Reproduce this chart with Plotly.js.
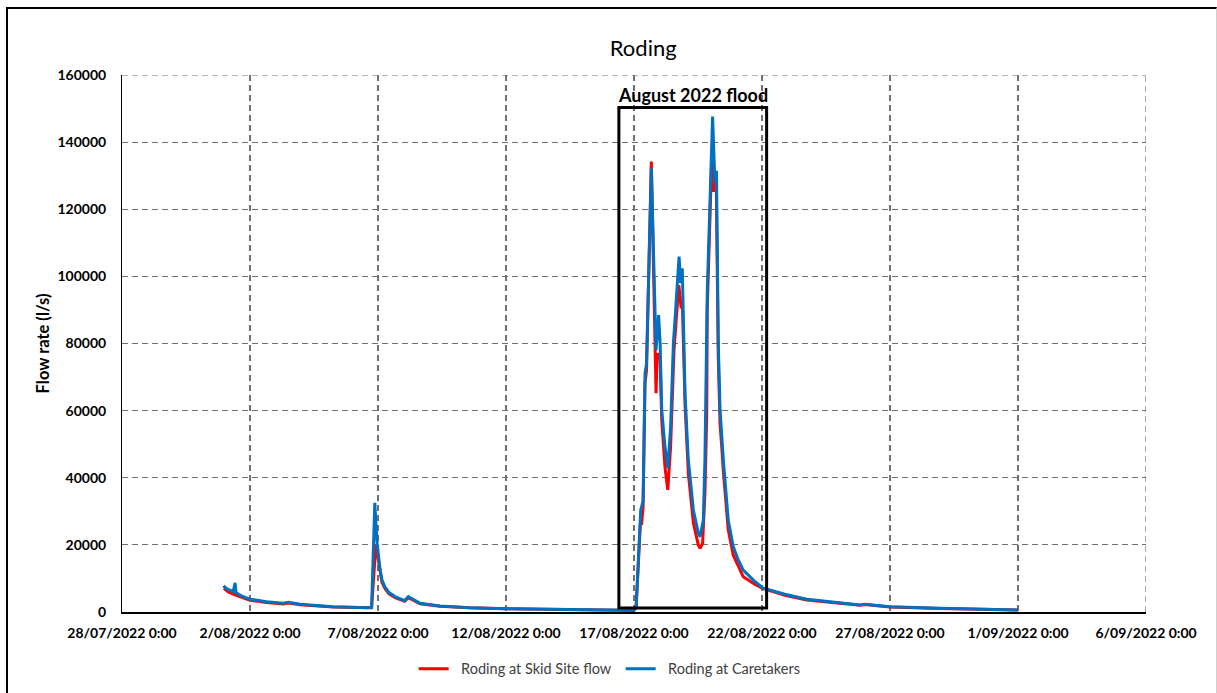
<!DOCTYPE html>
<html>
<head>
<meta charset="utf-8">
<script src="https://cdn.plot.ly/plotly-3.0.1.min.js"></script>
<style>
  html, body { margin: 0; padding: 0; background: #ffffff; }
  #chart { width: 1217px; height: 693px; }
  #frame {
    position: absolute; left: 6px; top: 7px; width: 1208px; height: 700px;
    border-left: 2px solid #000; border-top: 2px solid #000; border-right: 1px solid #cfcfcf;
    pointer-events: none;
  }
</style>
</head>
<body>
<div id="chart"></div>
<div id="frame"></div>
<script>
// Roding at Skid Site flow (l/s)
const timesSkid = [
  "2022-07-31 23:30", "2022-08-01 04:00", "2022-08-01 10:00", "2022-08-01 16:00",
  "2022-08-02 00:00", "2022-08-02 15:30", "2022-08-03 07:00", "2022-08-03 12:00",
  "2022-08-03 23:00", "2022-08-05 06:00", "2022-08-06 13:30", "2022-08-06 18:00",
  "2022-08-06 22:00", "2022-08-07 02:00", "2022-08-07 03:45", "2022-08-07 06:30",
  "2022-08-07 10:20", "2022-08-07 16:00", "2022-08-07 20:40", "2022-08-08 01:00",
  "2022-08-08 04:30", "2022-08-08 15:30", "2022-08-09 10:00", "2022-08-10 14:00",
  "2022-08-12 00:00", "2022-08-14 03:00", "2022-08-15 16:00", "2022-08-17 00:00",
  "2022-08-17 02:00", "2022-08-17 04:00", "2022-08-17 06:00", "2022-08-17 07:00",
  "2022-08-17 08:30", "2022-08-17 10:20", "2022-08-17 11:45", "2022-08-17 16:15",
  "2022-08-17 20:40", "2022-08-17 21:45", "2022-08-18 00:30", "2022-08-18 02:00",
  "2022-08-18 05:00", "2022-08-18 07:40", "2022-08-18 10:20", "2022-08-18 13:30",
  "2022-08-18 18:00", "2022-08-18 20:15", "2022-08-18 21:15", "2022-08-18 23:50",
  "2022-08-19 02:55", "2022-08-19 07:40", "2022-08-19 12:15", "2022-08-19 14:00",
  "2022-08-19 16:20", "2022-08-19 18:30", "2022-08-19 20:10", "2022-08-19 20:40",
  "2022-08-19 23:30", "2022-08-20 00:45", "2022-08-20 02:40", "2022-08-20 05:00",
  "2022-08-20 07:00", "2022-08-20 08:40", "2022-08-20 10:15", "2022-08-20 11:45",
  "2022-08-20 16:20", "2022-08-20 21:00", "2022-08-21 06:25", "2022-08-21 17:30",
  "2022-08-22 01:10", "2022-08-22 21:30", "2022-08-23 18:00", "2022-08-24 15:45",
  "2022-08-25 20:00", "2022-08-26 00:30", "2022-08-27 00:00", "2022-08-28 23:00",
  "2022-09-01 00:00"
];
const flowSkid = [
  7060, 5900, 5100, 4400,
  3500, 2850, 2400, 2700,
  2150, 1500, 1200, 1300,
  20000, 11500, 8800, 7000,
  5400, 4300, 3700, 3200,
  4300, 2450, 1700, 1250,
  950, 720, 560, 480,
  1400, 14000, 26500, 26000,
  31000, 68200, 72000, 134200,
  65200, 77100, 75000, 57200,
  43300, 36400, 49300, 78000,
  97400, 90500, 93000, 62000,
  41400, 26500, 20000, 19000,
  20500, 35400, 58200, 90000,
  118000, 133800, 125200, 130700,
  76000, 56000, 49300, 42000,
  24500, 17000, 10500, 8200,
  7000, 5000, 3600, 2850,
  2000, 2200, 1500, 1050,
  570
];

// Roding at Caretakers (l/s)
const timesCaretakers = [
  "2022-07-31 23:00", "2022-08-01 03:00", "2022-08-01 08:15", "2022-08-01 10:00",
  "2022-08-01 11:00", "2022-08-01 16:00", "2022-08-02 00:00", "2022-08-02 15:30",
  "2022-08-03 07:00", "2022-08-03 12:00", "2022-08-03 23:00", "2022-08-05 06:00",
  "2022-08-06 13:30", "2022-08-06 18:00", "2022-08-06 21:00", "2022-08-06 23:00",
  "2022-08-07 02:00", "2022-08-07 03:45", "2022-08-07 06:30", "2022-08-07 10:20",
  "2022-08-07 16:00", "2022-08-07 20:40", "2022-08-08 01:00", "2022-08-08 04:30",
  "2022-08-08 15:30", "2022-08-09 10:00", "2022-08-10 14:00", "2022-08-12 00:00",
  "2022-08-14 03:00", "2022-08-15 16:00", "2022-08-17 00:00", "2022-08-17 02:00",
  "2022-08-17 04:00", "2022-08-17 06:20", "2022-08-17 08:30", "2022-08-17 10:20",
  "2022-08-17 11:45", "2022-08-17 16:15", "2022-08-17 20:40", "2022-08-17 23:05",
  "2022-08-18 00:30", "2022-08-18 02:00", "2022-08-18 05:00", "2022-08-18 07:40",
  "2022-08-18 10:20", "2022-08-18 12:55", "2022-08-18 14:25", "2022-08-18 18:15",
  "2022-08-18 19:45", "2022-08-18 21:15", "2022-08-18 23:50", "2022-08-19 02:55",
  "2022-08-19 07:40", "2022-08-19 12:15", "2022-08-19 14:00", "2022-08-19 17:00",
  "2022-08-19 18:30", "2022-08-19 19:30", "2022-08-19 20:40", "2022-08-19 23:30",
  "2022-08-20 01:40", "2022-08-20 03:50", "2022-08-20 05:20", "2022-08-20 07:00",
  "2022-08-20 08:40", "2022-08-20 11:45", "2022-08-20 16:20", "2022-08-20 21:00",
  "2022-08-21 01:45", "2022-08-21 06:25", "2022-08-21 17:30", "2022-08-22 01:10",
  "2022-08-22 21:30", "2022-08-23 18:00", "2022-08-24 15:45", "2022-08-25 20:00",
  "2022-08-26 00:30", "2022-08-27 00:00", "2022-08-28 23:00", "2022-09-01 00:00"
];
const flowCaretakers = [
  7750, 6800, 6050, 8700,
  5700, 4800, 3800, 3070,
  2600, 2900, 2300, 1600,
  1280, 1400, 32500, 21000,
  12500, 9500, 7500, 5800,
  4600, 3900, 3400, 4600,
  2600, 1800, 1300, 1000,
  750, 580, 500, 1500,
  15500, 30400, 33000, 71100,
  74000, 132200, 78000, 88500,
  80000, 60200, 49300, 42800,
  55200, 80000, 87000, 105900,
  98000, 102400, 65000, 45300,
  30400, 23500, 22400, 27400,
  45300, 65200, 95000, 125000,
  147600, 128000, 131500, 80000,
  60200, 45300, 27400, 19500,
  15500, 12500, 9000, 7100,
  5300, 3800, 3000, 2100,
  2300, 1600, 1100, 600
];

// Axis ticks and the flood window
const xTickStart = "2022-07-28";
const xRange = ["2022-07-28", "2022-09-06"];
const yRange = [0, 160000];
const floodWindow = ["2022-08-16 09:50", "2022-08-22 04:20"];
const floodFlow = [1200, 150300];
const floodLabel = "August 2022 flood";

const FONT = "Lato, 'Open Sans', sans-serif";
const DAY_MS = 86400000;
const GRID_DASH = "6px,4px";
const GRID_COLOR = "#707070";
const LEGEND_PAD = "\u00a0\u00a0";

const traces = [
  {
    x: timesSkid, y: flowSkid, type: "scatter", mode: "lines",
    name: LEGEND_PAD + "Roding at Skid Site flow",
    line: { color: "#ff0000", width: 3 }
  },
  {
    x: timesCaretakers, y: flowCaretakers, type: "scatter", mode: "lines",
    name: LEGEND_PAD + "Roding at Caretakers",
    line: { color: "#0070c0", width: 3 }
  }
];

const floodMid = new Date((Date.parse(floodWindow[0].replace(" ", "T") + "Z") +
                           Date.parse(floodWindow[1].replace(" ", "T") + "Z")) / 2)
  .toISOString().slice(0, 16).replace("T", " ");

const layout = {
  width: 1217, height: 693,
  margin: { l: 122, r: 71, t: 75, b: 81 },
  paper_bgcolor: "#ffffff", plot_bgcolor: "#ffffff",
  font: { family: FONT, color: "#000000" },
  title: {
    text: "Roding", x: 0.509, xref: "paper", xanchor: "center",
    y: 0.93, yref: "container", yanchor: "middle",
    font: { family: FONT, size: 22, color: "#000000" }
  },
  xaxis: {
    type: "date", range: xRange, tick0: xTickStart, dtick: 5 * DAY_MS,
    tickformat: "%-d/%m/%Y %-H:%M",
    tickfont: { family: FONT, size: 14, color: "#000000", weight: "bold" },
    showgrid: true, gridcolor: GRID_COLOR, griddash: GRID_DASH, gridwidth: 1.2,
    showline: true, linecolor: "#000000", linewidth: 2, mirror: false,
    ticks: "", ticklabelstandoff: 7, zeroline: false, fixedrange: true
  },
  yaxis: {
    range: yRange, dtick: 20000, tick0: 0, tickformat: "d",
    tickfont: { family: FONT, size: 14, color: "#000000", weight: "bold" },
    title: { text: "Flow rate (l/s)", standoff: 3,
             font: { family: FONT, size: 16.5, color: "#000000", weight: "bold" } },
    showgrid: true, gridcolor: GRID_COLOR, griddash: GRID_DASH, gridwidth: 1.2,
    showline: true, linecolor: "#000000", linewidth: 1,
    ticks: "", ticklabelstandoff: 12, zeroline: false, fixedrange: true
  },
  showlegend: true,
  legend: {
    orientation: "h", xref: "paper", x: 0.487, xanchor: "center",
    yref: "container", y: 0.035, yanchor: "middle",
    font: { family: FONT, size: 14.5, color: "#404040" }, itemwidth: 30,
    entrywidth: 162
  },
  shapes: [
    // top and right edges of the grid
    {
      type: "line", xref: "paper", yref: "y", x0: 0, x1: 1, y0: yRange[1], y1: yRange[1],
      line: { color: GRID_COLOR, width: 1.2, dash: GRID_DASH }, layer: "below"
    },
    {
      type: "line", xref: "x", yref: "paper", x0: xRange[1], x1: xRange[1], y0: 0, y1: 1,
      line: { color: GRID_COLOR, width: 1.2, dash: GRID_DASH }, layer: "below"
    },
    // flood window
    {
      type: "rect", xref: "x", yref: "y",
      x0: floodWindow[0], x1: floodWindow[1], y0: floodFlow[0], y1: floodFlow[1],
      line: { color: "#000000", width: 3 }, fillcolor: "rgba(0,0,0,0)", layer: "above"
    }
  ],
  annotations: [
    {
      text: "<b>" + floodLabel + "</b>", xref: "x", yref: "y",
      x: floodMid, y: floodFlow[1], yanchor: "bottom", xanchor: "center",
      yshift: 0, showarrow: false,
      font: { family: FONT, size: 18, color: "#000000" }
    }
  ],
  hovermode: false
};

Plotly.newPlot("chart", traces, layout, { displayModeBar: false, staticPlot: true });
</script>
</body>
</html>
